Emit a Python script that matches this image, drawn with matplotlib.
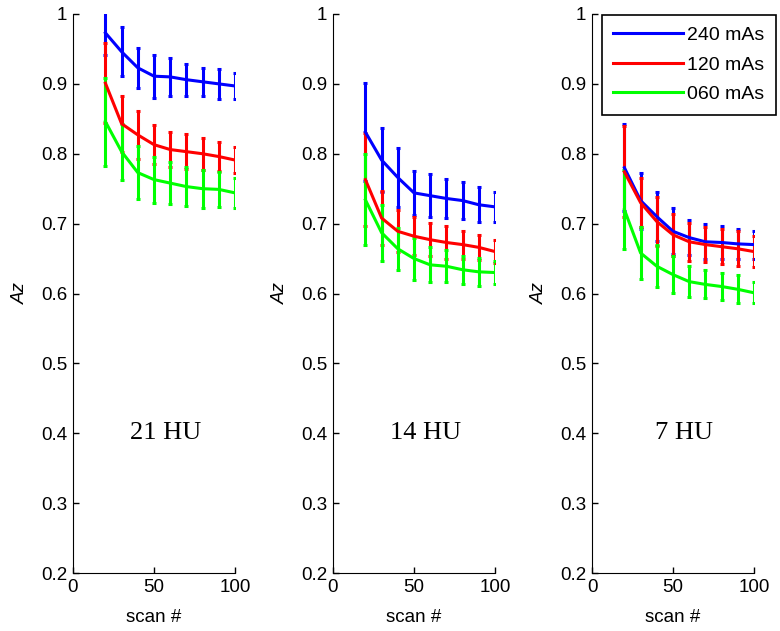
import matplotlib
matplotlib.use('Agg')
import matplotlib.pyplot as plt
from matplotlib.lines import Line2D
from matplotlib.ticker import FuncFormatter

plt.rcParams['font.family'] = ['Liberation Sans', 'DejaVu Sans']

scans = [20, 30, 40, 50, 60, 70, 80, 90, 100]
doses = ['240 mAs', '120 mAs', '060 mAs']
colors = ['#0000ff', '#ff0000', '#00ff00']
panel_labels = ['21 HU', '14 HU', '7 HU']

# 21 HU
az_21 = [
    [0.973, 0.946, 0.923, 0.911, 0.910, 0.906, 0.903, 0.900, 0.897],
    [0.901, 0.843, 0.827, 0.813, 0.806, 0.803, 0.800, 0.796, 0.791],
    [0.846, 0.803, 0.773, 0.763, 0.758, 0.753, 0.750, 0.749, 0.744],
]
err_21 = [
    [0.031, 0.035, 0.029, 0.031, 0.027, 0.023, 0.020, 0.021, 0.019],
    [0.057, 0.040, 0.034, 0.028, 0.025, 0.025, 0.023, 0.021, 0.019],
    [0.063, 0.040, 0.038, 0.033, 0.030, 0.028, 0.027, 0.025, 0.022],
]
# 14 HU
az_14 = [
    [0.831, 0.791, 0.766, 0.744, 0.740, 0.736, 0.733, 0.727, 0.724],
    [0.763, 0.708, 0.689, 0.682, 0.677, 0.673, 0.670, 0.666, 0.660],
    [0.734, 0.687, 0.664, 0.650, 0.641, 0.639, 0.634, 0.631, 0.630],
]
err_14 = [
    [0.070, 0.046, 0.042, 0.032, 0.031, 0.028, 0.026, 0.025, 0.021],
    [0.067, 0.038, 0.030, 0.027, 0.024, 0.024, 0.020, 0.018, 0.017],
    [0.065, 0.040, 0.030, 0.030, 0.025, 0.023, 0.020, 0.020, 0.016],
]
# 7 HU
az_7 = [
    [0.780, 0.733, 0.710, 0.689, 0.680, 0.674, 0.673, 0.671, 0.670],
    [0.774, 0.730, 0.703, 0.684, 0.674, 0.670, 0.667, 0.664, 0.660],
    [0.720, 0.658, 0.639, 0.627, 0.617, 0.613, 0.610, 0.606, 0.601],
]
err_7 = [
    [0.062, 0.040, 0.035, 0.033, 0.025, 0.025, 0.023, 0.021, 0.020],
    [0.065, 0.035, 0.035, 0.030, 0.027, 0.025, 0.025, 0.025, 0.022],
    [0.057, 0.037, 0.030, 0.026, 0.022, 0.020, 0.020, 0.020, 0.015],
]

panels = [(az_21, err_21), (az_14, err_14), (az_7, err_7)]
lefts = [73, 333, 592]

fig = plt.figure(figsize=(7.8, 6.31), dpi=100)
tick_fs = 13.5

axes = []
for p, (az, err) in enumerate(panels):
    ax = fig.add_axes([lefts[p] / 780, 58 / 631, 162 / 780, 559 / 631])
    axes.append(ax)
    for i in range(3):
        ax.errorbar(scans, az[i], yerr=err[i], color=colors[i], lw=2.2,
                    elinewidth=2.2, capsize=1.5, capthick=2.2)
    ax.set_xlim(0, 100)
    ax.set_ylim(0.2, 1)
    ax.set_xticks([0, 50, 100])
    ax.set_yticks([0.2, 0.3, 0.4, 0.5, 0.6, 0.7, 0.8, 0.9, 1.0])
    ax.yaxis.set_major_formatter(FuncFormatter(lambda v, pos: '%g' % round(v, 2)))
    ax.spines['top'].set_visible(False)
    ax.spines['right'].set_visible(False)
    ax.tick_params(direction='in', length=4, width=1, labelsize=tick_fs, pad=4)
    ax.set_xlabel('scan #', fontsize=tick_fs)
    ax.xaxis.set_label_coords(0.5, -0.065)
    ax.set_ylabel('Az', fontsize=tick_fs, style='italic')
    ax.yaxis.set_label_coords(-0.27, 0.5)
    ax.text(57, 0.4, panel_labels[p], fontsize=19, family='Liberation Serif',
            ha='center', va='center')

handles = [Line2D([], [], color=c, lw=2.2) for c in colors]
leg = axes[2].legend(handles, doses, loc='upper right',
                     bbox_to_anchor=(776 / 780, 1 - 15 / 631),
                     bbox_transform=fig.transFigure, borderaxespad=0, fontsize=14,
                     handlelength=3.6, handletextpad=0.2, labelspacing=0.6,
                     fancybox=False, edgecolor='black', framealpha=1,
                     borderpad=0.6)
leg.get_frame().set_linewidth(1.2)

fig.savefig('out.png', dpi=100)
